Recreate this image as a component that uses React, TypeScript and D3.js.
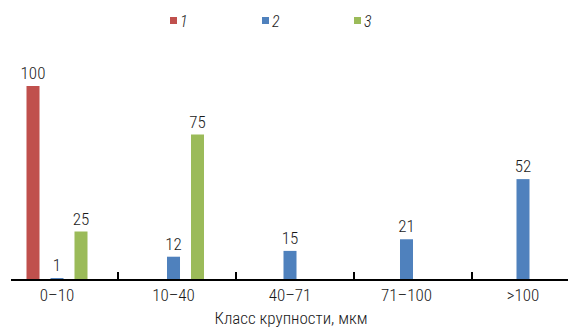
import React from "react";
import * as d3 from "d3";

// Size classes (µm) along the x axis
const categories = ["0–10", "10–40", "40–71", "71–100", ">100"];
// Series keys shown in the legend
const seriesKeys = ["1", "2", "3"];
// Values per series; null where a series has no bar
const series1: (number | null)[] = [100, null, null, null, null];
const series2: (number | null)[] = [1, 12, 15, 21, 52];
const series3: (number | null)[] = [25, 75, null, null, null];
const axisTitle = "Класс крупности, мкм";

const colors = ["#C0504D", "#4F81BD", "#9BBB59"];
const FONT = "'Roboto Condensed', 'Liberation Sans Narrow', 'DejaVu Sans Condensed', Roboto, sans-serif";

const W = 568;
const H = 328;

export default function App() {
  const values = [series1, series2, series3];

  // group centres
  const x = d3.scalePoint<string>().domain(categories).range([57, 523]);
  // tick divisions between groups
  const xTicks = d3.scaleBand<string>().domain(categories).range([0, 590]);
  // bar offsets inside a group
  const inner = d3.scaleBand<string>().domain(seriesKeys).range([-30.5, 30.5]).paddingInner(0.458);
  const y = d3.scaleLinear().domain([0, 100]).range([280, 86]);

  const baseY = y(0);

  return (
    <svg
      width={W}
      height={H}
      style={{ position: "absolute", left: 0, top: 0, background: "#fff" }}
      fontFamily={FONT}
      fontWeight={300}
    >
      {/* legend */}
      {seriesKeys.map((k, i) => (
        <g key={k} transform={`translate(${170 + i * 92},17)`}>
          <rect width={7} height={7} fill={colors[i]} />
          <text x={10} y={9.5} fontSize={16} fontStyle="italic" fill="#1a1a1a">
            {k}
          </text>
        </g>
      ))}

      {/* bars and value labels */}
      {values.map((vals, si) =>
        vals.map((v, ci) => {
          if (v == null) return null;
          const bx = (x(categories[ci]) as number) + (inner(seriesKeys[si]) as number);
          const bw = inner.bandwidth();
          const top = y(v);
          return (
            <g key={`${si}-${ci}`}>
              <rect x={bx} y={top} width={bw} height={Math.max(baseY - top, 1.5)} fill={colors[si]} />
              <text
                x={bx + bw / 2}
                y={Math.min(top, baseY - 2) - 7}
                textAnchor="middle"
                fontSize={17}
                fill="#1a1a1a"
              >
                {v}
              </text>
            </g>
          );
        })
      )}

      {/* x axis */}
      <line x1={11} x2={568} y1={baseY} y2={baseY} stroke="#000" strokeWidth={2} />
      {categories.slice(1).map((c) => (
        <line
          key={c}
          x1={xTicks(c) as number}
          x2={xTicks(c) as number}
          y1={baseY}
          y2={baseY - 8}
          stroke="#000"
          strokeWidth={2}
        />
      ))}
      {categories.map((c) => (
        <text key={c} x={x(c) as number} y={301} textAnchor="middle" fontSize={17} fill="#1a1a1a">
          {c}
        </text>
      ))}
      <text x={291} y={324} textAnchor="middle" fontSize={17} fill="#1a1a1a">
        {axisTitle}
      </text>
    </svg>
  );
}
